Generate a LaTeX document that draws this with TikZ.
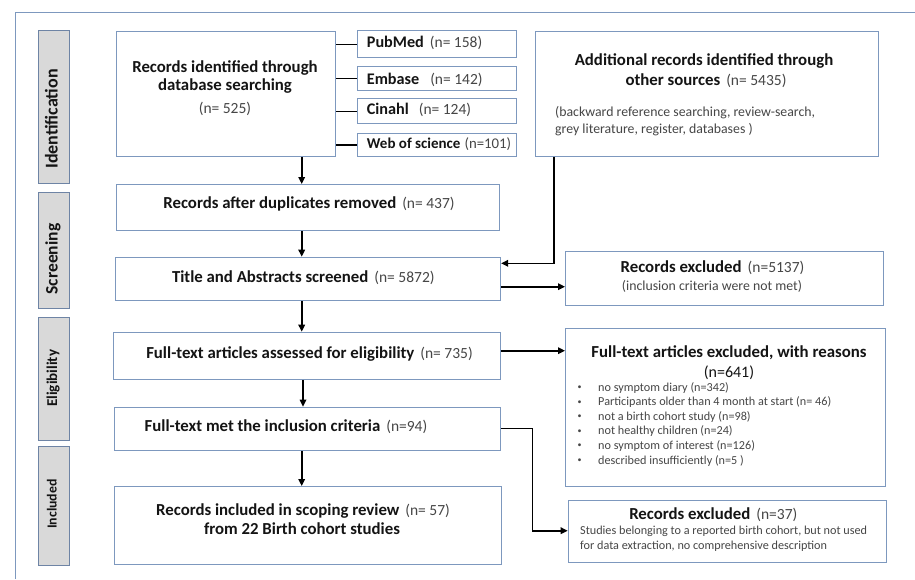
\documentclass[tikz,border=0pt]{standalone}
\usepackage{fontspec}
\setmainfont{Carlito}
\usetikzlibrary{arrows.meta}
\definecolor{bordc}{RGB}{125,152,190}
\definecolor{labfill}{RGB}{217,217,217}
\definecolor{labbord}{RGB}{110,132,165}
\definecolor{numc}{RGB}{70,70,70}
\definecolor{txt}{RGB}{20,20,20}
\newcommand{\nn}[1]{{\mdseries\fontsize{15.5}{18}\selectfont\color{numc}#1}}
\newcommand{\nnw}[1]{{\mdseries\fontsize{14.8}{18}\selectfont\color{numc}#1}}
\newcommand{\bx}[6]{\node[#1, minimum width=#4-#2, minimum height=#5-#3] (#6) at (#2,#3) {};}
\tikzset{
 box/.style={draw=bordc, line width=1.1pt, fill=white, inner sep=0pt, anchor=north west},
 lab/.style={draw=labbord, line width=1.1pt, fill=labfill, inner sep=0pt, anchor=north west},
 hd/.style={font=\fontsize{16.8}{20}\selectfont\bfseries, text=txt, inner sep=0pt, anchor=base},
 hdl/.style={hd, anchor=base west},
 dbt/.style={font=\fontsize{16.2}{20}\selectfont\bfseries, text=txt, inner sep=0pt, anchor=base west},
 lbt/.style={text=txt, inner sep=0pt, anchor=base, rotate=90},
 sm/.style={font=\fontsize{13.8}{16}\selectfont, text=numc, inner sep=0pt, anchor=base west},
 smc/.style={sm, anchor=base},
 tiny/.style={font=\fontsize{12.2}{14}\selectfont, text=numc, inner sep=0pt, anchor=base west},
 arr/.style={draw=black, line width=1.6pt, -{Triangle[length=7pt,width=6.5pt]}},
 ln/.style={draw=black, line width=1.3pt},
}
\begin{document}
\begin{tikzpicture}[x=1pt,y=-1pt]
\useasboundingbox (0,0) rectangle (915,579);
\fill[white] (0,0) rectangle (915,579);
% frame
\draw[draw=bordc, line width=1.1pt] (15.7,579) -- (15.7,12.5) -- (915,12.5);
% phase labels
\bx{lab}{37.7}{30}{69}{183}{idlab}
\bx{lab}{37.7}{192}{69}{308.3}{scrlab}
\bx{lab}{37.7}{316.7}{69}{440}{elilab}
\bx{lab}{37.7}{446}{69}{565}{inclab}
\node[lbt, font=\fontsize{18}{20}\selectfont\bfseries] (idt) at (57.5,119) {Identification};
\node[lbt, font=\fontsize{17.5}{20}\selectfont\bfseries] (scrt) at (57.5,259) {Screening};
\node[lbt, font=\fontsize{15}{18}\selectfont\bfseries] (elit) at (57,378.3) {Eligibility};
\node[lbt, font=\fontsize{13.8}{16}\selectfont\bfseries] (inct) at (56.5,504) {Included};
% boxes
\bx{box}{115.7}{31}{335}{155.7}{rid}
\bx{box}{357.3}{30}{515.7}{57.3}{pub}
\bx{box}{357.3}{65.7}{515.7}{90}{emb}
\bx{box}{357.3}{98.3}{515.7}{123.3}{cin}
\bx{box}{357.3}{132.7}{515.7}{156}{wos}
\bx{box}{535}{30.7}{878.3}{155.7}{add}
\bx{box}{115.7}{184}{499}{230}{dup}
\bx{box}{115}{256.7}{500}{300}{tas}
\bx{box}{565}{250.7}{883.3}{305}{rex}
\bx{box}{113.3}{331.7}{500}{379.3}{fta}
\bx{box}{565}{327.7}{885}{486}{fte}
\bx{box}{114.3}{406.7}{500}{450}{ftm}
\bx{box}{114.3}{486}{501}{564}{inc}
\bx{box}{567.7}{499.5}{886}{561.7}{rex2}
% texts
\node[hd] (rid1) at (225,72) {Records identified through};
\node[hd] (rid2) at (225,90.5) {database searching};
\node[hd] (rid3) at (225,113.5) {\nn{(n= 525)}};
\node[dbt] (pubt) at (366.7,47) {PubMed\hspace{6pt}\nn{(n= 158)}};
\node[dbt] (embt) at (366.7,84.5) {Embase\hspace{11pt}\nn{(n= 142)}};
\node[dbt] (cint) at (366.7,114.5) {Cinahl\hspace{10pt}\nn{(n= 124)}};
\node[dbt, font=\fontsize{15}{18}\selectfont\bfseries] (wost) at (366.7,148.5) {Web of science\hspace{4pt}\nnw{(n=101)}};
\node[hd] (add1) at (704,65.5) {Additional records identified through};
\node[hd] (add2) at (706,85.5) {other sources\hspace{6pt}\nn{(n= 5435)}};
\node[sm] (add3) at (555,116) {(backward reference searching, review-search,};
\node[sm] (add4) at (555,133) {grey literature, register, databases )};
\node[hd] (dupt) at (309,208.5) {Records after duplicates removed\hspace{6pt}\nn{(n= 437)}};
\node[hd] (tast) at (303.3,282) {Title and Abstracts screened\hspace{6pt}\nn{(n= 5872)}};
\node[hd] (ftat) at (309.5,358) {Full-text articles assessed for eligibility\hspace{6pt}\nn{(n= 735)}};
\node[hd] (ftmt) at (286,431.5) {Full-text met the inclusion criteria\hspace{6pt}\nn{(n=94)}};
\node[hd] (inc1) at (303,515) {Records included in scoping review\hspace{6pt}\nn{(n= 57)}};
\node[hd] (inc2) at (302,534.5) {from 22 Birth cohort studies};
\node[hd] (rex1) at (712.5,272) {Records excluded\hspace{6pt}\nn{(n=5137)}};
\node[smc] (rexs) at (712,290.5) {(inclusion criteria were not met)};
\node[hd] (fte1) at (729,357.5) {Full-text articles excluded, with reasons};
\node[hd] (fte2) at (729,377.5) {\mdseries\fontsize{16}{18}\selectfont (n=641)};
\foreach \yy/\tt [count=\i] in {391/no symptom diary (n=342),
  405.5/Participants older than 4 month at start (n= 46),
  420/not a birth cohort study (n=98),
  434.5/not healthy children (n=24),
  449/no symptom of interest (n=126),
  464/described insufficiently (n=5 )}{
  \node[tiny] (bul\i) at (577.5,\yy) {\raisebox{1.2pt}{\fontsize{8}{8}\selectfont\textbullet}};
  \node[tiny] (fb\i) at (598,\yy) {\tt};
}
\node[hd] (rx21) at (713.3,519.5) {Records excluded\hspace{6pt}\nn{(n=37)}};
\node[tiny] (rx22) at (580,534) {Studies belonging to a reported birth cohort, but not used};
\node[tiny] (rx23) at (580,549) {for data extraction, no comprehensive description};
% connectors
\coordinate (ax) at (301.7,0);
\coordinate (ax2) at (303,0);
\draw[ln] (rid.east |- pub.west) -- (pub.west);
\draw[ln] (rid.east |- emb.west) -- (emb.west);
\draw[ln] (rid.east |- cin.west) -- (cin.west);
\draw[ln] (rid.east |- wos.west) -- (wos.west);
\draw[arr] (ax |- rid.south) -- (ax |- dup.north);
\draw[arr] (ax |- dup.south) -- (ax |- tas.north);
\draw[arr] (ax |- tas.south) -- (ax |- fta.north);
\draw[arr] (ax2 |- fta.south) -- (ax2 |- ftm.north);
\draw[arr] (ax |- ftm.south) -- (ax |- inc.north);
\coordinate (ay) at (554,263.3);
\draw[arr] (ay |- add.south) -- (ay) -- (ay -| tas.east);
\coordinate (by) at (0,286.7);
\draw[arr] (by -| tas.east) -- (by -| rex.west);
\coordinate (cy) at (0,350.7);
\draw[arr] (cy -| fta.east) -- (cy -| fte.west);
\coordinate (dy) at (532.3,428.3);
\coordinate (dz) at (532.3,530.7);
\draw[arr] (dy -| ftm.east) -- (dy) -- (dz) -- (dz -| rex2.west);
\end{tikzpicture}
\end{document}
